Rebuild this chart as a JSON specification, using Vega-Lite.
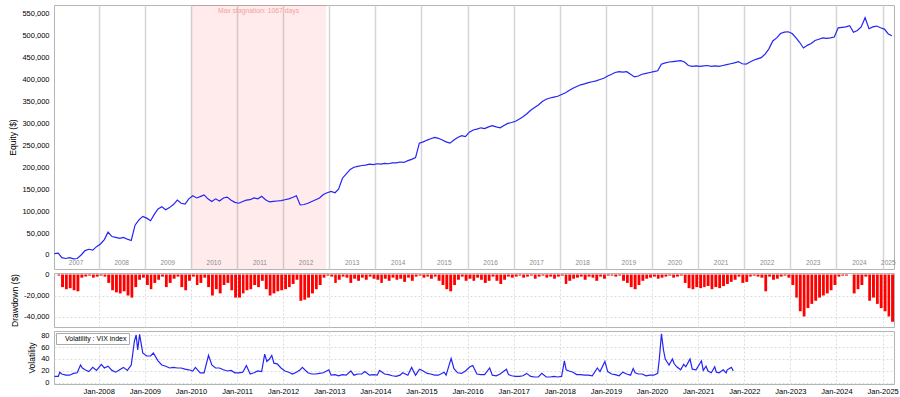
{
"$schema": "https://vega.github.io/schema/vega-lite/v6.json",
"padding": {"left": 8, "top": 4, "right": 0, "bottom": 0},
"spacing": 4,
"bounds": "flush",
"background": "white",
"resolve": {"legend": {"color": "independent"}, "scale": {"color": "independent"}},
"config": {
  "font": "Liberation Sans",
  "view": {"stroke": "#b4b4b4"},
  "axis": {"labelFontSize": 7.5, "labelColor": "#000", "titleFontSize": 8.5, "titleFontWeight": "normal", "titleColor": "#000", "gridColor": "#dcdcdc", "gridDash": [2, 2], "domain": false, "ticks": false, "labelPadding": 5, "titlePadding": 4}
},
"datasets": {
  "eq": [
{"d":"2007-01-15","e":3000,"w":0},{"d":"2007-02-15","e":4000,"w":-1000},{"d":"2007-03-15","e":-6000,"w":-12000},{"d":"2007-04-15","e":-8000,"w":-14000},{"d":"2007-05-15","e":-6000,"w":-13000},{"d":"2007-06-15","e":-9000,"w":-15000},{"d":"2007-07-15","e":-8000,"w":-16000},{"d":"2007-08-15","e":0,"w":-3000},{"d":"2007-09-15","e":10000,"w":-2000},{"d":"2007-10-15","e":13000,"w":-1000},{"d":"2007-11-15","e":11000,"w":-3000},{"d":"2007-12-15","e":19000,"w":-2000},
{"d":"2008-01-15","e":25000,"w":-1000},{"d":"2008-02-15","e":35000,"w":-2000},{"d":"2008-03-15","e":52000,"w":-8000},{"d":"2008-04-15","e":42000,"w":-15000},{"d":"2008-05-15","e":40000,"w":-17000},{"d":"2008-06-15","e":38000,"w":-18000},{"d":"2008-07-15","e":40000,"w":-16000},{"d":"2008-08-15","e":36000,"w":-20000},{"d":"2008-09-15","e":33000,"w":-22000},{"d":"2008-10-15","e":68000,"w":-12000},{"d":"2008-11-15","e":80000,"w":-5000},{"d":"2008-12-15","e":88000,"w":-3000},
{"d":"2009-01-15","e":84000,"w":-10000},{"d":"2009-02-15","e":78000,"w":-14000},{"d":"2009-03-15","e":92000,"w":-8000},{"d":"2009-04-15","e":105000,"w":-5000},{"d":"2009-05-15","e":110000,"w":-2000},{"d":"2009-06-15","e":103000,"w":-12000},{"d":"2009-07-15","e":108000,"w":-8000},{"d":"2009-08-15","e":115000,"w":-4000},{"d":"2009-09-15","e":125000,"w":-2000},{"d":"2009-10-15","e":118000,"w":-12000},{"d":"2009-11-15","e":116000,"w":-15000},{"d":"2009-12-15","e":128000,"w":-6000},
{"d":"2010-01-15","e":135000,"w":-2000},{"d":"2010-02-15","e":130000,"w":-10000},{"d":"2010-03-15","e":133000,"w":-8000},{"d":"2010-04-15","e":137000,"w":-3000},{"d":"2010-05-15","e":128000,"w":-12000},{"d":"2010-06-15","e":122000,"w":-20000},{"d":"2010-07-15","e":128000,"w":-14000},{"d":"2010-08-15","e":123000,"w":-18000},{"d":"2010-09-15","e":130000,"w":-10000},{"d":"2010-10-15","e":132000,"w":-8000},{"d":"2010-11-15","e":125000,"w":-15000},{"d":"2010-12-15","e":120000,"w":-22000},
{"d":"2011-01-15","e":118000,"w":-22000},{"d":"2011-02-15","e":122000,"w":-18000},{"d":"2011-03-15","e":125000,"w":-15000},{"d":"2011-04-15","e":126000,"w":-14000},{"d":"2011-05-15","e":130000,"w":-10000},{"d":"2011-06-15","e":128000,"w":-12000},{"d":"2011-07-15","e":134000,"w":-6000},{"d":"2011-08-15","e":126000,"w":-14000},{"d":"2011-09-15","e":121000,"w":-20000},{"d":"2011-10-15","e":122000,"w":-18000},{"d":"2011-11-15","e":123000,"w":-16000},{"d":"2011-12-15","e":124000,"w":-15000},
{"d":"2012-01-15","e":126000,"w":-14000},{"d":"2012-02-15","e":128000,"w":-12000},{"d":"2012-03-15","e":131000,"w":-9000},{"d":"2012-04-15","e":135000,"w":-5000},{"d":"2012-05-15","e":114000,"w":-25000},{"d":"2012-06-15","e":115000,"w":-24000},{"d":"2012-07-15","e":118000,"w":-22000},{"d":"2012-08-15","e":122000,"w":-18000},{"d":"2012-09-15","e":126000,"w":-14000},{"d":"2012-10-15","e":130000,"w":-10000},{"d":"2012-11-15","e":138000,"w":-3000},{"d":"2012-12-15","e":142000,"w":-1000},
{"d":"2013-01-15","e":145000,"w":-2000},{"d":"2013-02-15","e":142000,"w":-8000},{"d":"2013-03-15","e":150000,"w":-5000},{"d":"2013-04-15","e":175000,"w":-2000},{"d":"2013-05-15","e":185000,"w":-3000},{"d":"2013-06-15","e":195000,"w":-8000},{"d":"2013-07-15","e":200000,"w":-4000},{"d":"2013-08-15","e":202000,"w":-6000},{"d":"2013-09-15","e":204000,"w":-3000},{"d":"2013-10-15","e":205000,"w":-5000},{"d":"2013-11-15","e":207000,"w":-2000},{"d":"2013-12-15","e":206000,"w":-4000},
{"d":"2014-01-15","e":208000,"w":-5000},{"d":"2014-02-15","e":207000,"w":-8000},{"d":"2014-03-15","e":209000,"w":-4000},{"d":"2014-04-15","e":208000,"w":-6000},{"d":"2014-05-15","e":210000,"w":-3000},{"d":"2014-06-15","e":210000,"w":-5000},{"d":"2014-07-15","e":212000,"w":-4000},{"d":"2014-08-15","e":211000,"w":-7000},{"d":"2014-09-15","e":215000,"w":-3000},{"d":"2014-10-15","e":218000,"w":-6000},{"d":"2014-11-15","e":222000,"w":-2000},{"d":"2014-12-15","e":255000,"w":-1000},
{"d":"2015-01-15","e":258000,"w":-3000},{"d":"2015-02-15","e":262000,"w":-2000},{"d":"2015-03-15","e":265000,"w":-4000},{"d":"2015-04-15","e":268000,"w":-2000},{"d":"2015-05-15","e":266000,"w":-6000},{"d":"2015-06-15","e":262000,"w":-10000},{"d":"2015-07-15","e":258000,"w":-14000},{"d":"2015-08-15","e":255000,"w":-16000},{"d":"2015-09-15","e":262000,"w":-10000},{"d":"2015-10-15","e":268000,"w":-5000},{"d":"2015-11-15","e":272000,"w":-2000},{"d":"2015-12-15","e":270000,"w":-6000},
{"d":"2016-01-15","e":280000,"w":-4000},{"d":"2016-02-15","e":285000,"w":-6000},{"d":"2016-03-15","e":287000,"w":-3000},{"d":"2016-04-15","e":290000,"w":-5000},{"d":"2016-05-15","e":288000,"w":-8000},{"d":"2016-06-15","e":292000,"w":-6000},{"d":"2016-07-15","e":295000,"w":-2000},{"d":"2016-08-15","e":292000,"w":-6000},{"d":"2016-09-15","e":290000,"w":-9000},{"d":"2016-10-15","e":295000,"w":-5000},{"d":"2016-11-15","e":300000,"w":-2000},{"d":"2016-12-15","e":302000,"w":-3000},
{"d":"2017-01-15","e":305000,"w":-2000},{"d":"2017-02-15","e":310000,"w":-1000},{"d":"2017-03-15","e":315000,"w":-3000},{"d":"2017-04-15","e":322000,"w":-2000},{"d":"2017-05-15","e":330000,"w":-1000},{"d":"2017-06-15","e":336000,"w":-4000},{"d":"2017-07-15","e":342000,"w":-2000},{"d":"2017-08-15","e":350000,"w":-1000},{"d":"2017-09-15","e":355000,"w":-3000},{"d":"2017-10-15","e":358000,"w":-2000},{"d":"2017-11-15","e":360000,"w":-4000},{"d":"2017-12-15","e":362000,"w":-2000},
{"d":"2018-01-15","e":366000,"w":-1000},{"d":"2018-02-15","e":370000,"w":-9000},{"d":"2018-03-15","e":375000,"w":-6000},{"d":"2018-04-15","e":380000,"w":-4000},{"d":"2018-05-15","e":384000,"w":-3000},{"d":"2018-06-15","e":388000,"w":-2000},{"d":"2018-07-15","e":390000,"w":-5000},{"d":"2018-08-15","e":393000,"w":-2000},{"d":"2018-09-15","e":395000,"w":-3000},{"d":"2018-10-15","e":397000,"w":-6000},{"d":"2018-11-15","e":400000,"w":-2000},{"d":"2018-12-15","e":403000,"w":-4000},
{"d":"2019-01-15","e":408000,"w":-1000},{"d":"2019-02-15","e":412000,"w":-1000},{"d":"2019-03-15","e":416000,"w":-2000},{"d":"2019-04-15","e":418000,"w":-1000},{"d":"2019-05-15","e":417000,"w":-6000},{"d":"2019-06-15","e":418000,"w":-8000},{"d":"2019-07-15","e":412000,"w":-12000},{"d":"2019-08-15","e":406000,"w":-14000},{"d":"2019-09-15","e":408000,"w":-10000},{"d":"2019-10-15","e":412000,"w":-6000},{"d":"2019-11-15","e":414000,"w":-4000},{"d":"2019-12-15","e":416000,"w":-3000},
{"d":"2020-01-15","e":418000,"w":-2000},{"d":"2020-02-15","e":420000,"w":-4000},{"d":"2020-03-15","e":435000,"w":-3000},{"d":"2020-04-15","e":438000,"w":-2000},{"d":"2020-05-15","e":440000,"w":-1000},{"d":"2020-06-15","e":441000,"w":-3000},{"d":"2020-07-15","e":442000,"w":-2000},{"d":"2020-08-15","e":443000,"w":-1000},{"d":"2020-09-15","e":440000,"w":-8000},{"d":"2020-10-15","e":432000,"w":-13000},{"d":"2020-11-15","e":430000,"w":-14000},{"d":"2020-12-15","e":431000,"w":-12000},
{"d":"2021-01-15","e":430000,"w":-13000},{"d":"2021-02-15","e":431000,"w":-12000},{"d":"2021-03-15","e":432000,"w":-11000},{"d":"2021-04-15","e":430000,"w":-14000},{"d":"2021-05-15","e":431000,"w":-12000},{"d":"2021-06-15","e":430000,"w":-13000},{"d":"2021-07-15","e":432000,"w":-11000},{"d":"2021-08-15","e":434000,"w":-9000},{"d":"2021-09-15","e":436000,"w":-7000},{"d":"2021-10-15","e":438000,"w":-5000},{"d":"2021-11-15","e":441000,"w":-2000},{"d":"2021-12-15","e":436000,"w":-8000},
{"d":"2022-01-15","e":435000,"w":-7000},{"d":"2022-02-15","e":440000,"w":-2000},{"d":"2022-03-15","e":444000,"w":-1000},{"d":"2022-04-15","e":447000,"w":-2000},{"d":"2022-05-15","e":450000,"w":-3000},{"d":"2022-06-15","e":458000,"w":-16000},{"d":"2022-07-15","e":470000,"w":-2000},{"d":"2022-08-15","e":488000,"w":-5000},{"d":"2022-09-15","e":495000,"w":-4000},{"d":"2022-10-15","e":505000,"w":-2000},{"d":"2022-11-15","e":508000,"w":-1000},{"d":"2022-12-15","e":509000,"w":-3000},
{"d":"2023-01-15","e":505000,"w":-10000},{"d":"2023-02-15","e":495000,"w":-22000},{"d":"2023-03-15","e":485000,"w":-35000},{"d":"2023-04-15","e":472000,"w":-40000},{"d":"2023-05-15","e":478000,"w":-32000},{"d":"2023-06-15","e":482000,"w":-28000},{"d":"2023-07-15","e":489000,"w":-25000},{"d":"2023-08-15","e":492000,"w":-22000},{"d":"2023-09-15","e":495000,"w":-20000},{"d":"2023-10-15","e":494000,"w":-18000},{"d":"2023-11-15","e":495000,"w":-15000},{"d":"2023-12-15","e":497000,"w":-10000},
{"d":"2024-01-15","e":518000,"w":-2000},{"d":"2024-02-15","e":519000,"w":-1000},{"d":"2024-03-15","e":520000,"w":-1000},{"d":"2024-04-15","e":523000,"w":0},{"d":"2024-05-15","e":508000,"w":-18000},{"d":"2024-06-15","e":512000,"w":-14000},{"d":"2024-07-15","e":520000,"w":-10000},{"d":"2024-08-15","e":541000,"w":-2000},{"d":"2024-09-15","e":516000,"w":-25000},{"d":"2024-10-15","e":520000,"w":-22000},{"d":"2024-11-15","e":522000,"w":-28000},{"d":"2024-12-15","e":518000,"w":-32000},
{"d":"2025-01-15","e":515000,"w":-35000},{"d":"2025-02-15","e":504000,"w":-40000},{"d":"2025-03-15","e":500000,"w":-45000}
  ],
  "vix": [
{"d":"2007-01-15","v":11},{"d":"2007-02-15","v":11},{"d":"2007-02-27","v":18},{"d":"2007-03-15","v":15},{"d":"2007-04-15","v":13},{"d":"2007-05-15","v":13},{"d":"2007-06-15","v":16},{"d":"2007-07-15","v":17},{"d":"2007-08-10","v":30},{"d":"2007-08-25","v":25},{"d":"2007-09-15","v":22},{"d":"2007-10-15","v":19},{"d":"2007-11-15","v":26},{"d":"2007-12-15","v":21},
{"d":"2008-01-22","v":31},{"d":"2008-02-15","v":25},{"d":"2008-03-15","v":28},{"d":"2008-04-15","v":21},{"d":"2008-05-15","v":18},{"d":"2008-06-15","v":22},{"d":"2008-07-15","v":26},{"d":"2008-08-15","v":21},{"d":"2008-09-15","v":30},{"d":"2008-10-10","v":70},{"d":"2008-10-24","v":80},{"d":"2008-11-05","v":55},{"d":"2008-11-20","v":81},{"d":"2008-12-15","v":50},
{"d":"2009-01-15","v":45},{"d":"2009-02-15","v":45},{"d":"2009-03-09","v":50},{"d":"2009-04-15","v":37},{"d":"2009-05-15","v":30},{"d":"2009-06-15","v":28},{"d":"2009-07-15","v":25},{"d":"2009-08-15","v":26},{"d":"2009-09-15","v":25},{"d":"2009-10-15","v":25},{"d":"2009-11-15","v":23},{"d":"2009-12-15","v":22},
{"d":"2010-01-15","v":20},{"d":"2010-02-05","v":26},{"d":"2010-03-15","v":17},{"d":"2010-04-15","v":17},{"d":"2010-05-20","v":46},{"d":"2010-06-15","v":30},{"d":"2010-07-15","v":25},{"d":"2010-08-15","v":25},{"d":"2010-09-15","v":22},{"d":"2010-10-15","v":20},{"d":"2010-11-15","v":21},{"d":"2010-12-15","v":17},
{"d":"2011-01-15","v":17},{"d":"2011-02-15","v":18},{"d":"2011-03-16","v":29},{"d":"2011-04-15","v":15},{"d":"2011-05-15","v":17},{"d":"2011-06-15","v":20},{"d":"2011-07-15","v":19},{"d":"2011-08-08","v":48},{"d":"2011-08-25","v":36},{"d":"2011-09-15","v":40},{"d":"2011-10-03","v":46},{"d":"2011-10-20","v":33},{"d":"2011-11-15","v":32},{"d":"2011-12-15","v":25},
{"d":"2012-01-15","v":20},{"d":"2012-02-15","v":18},{"d":"2012-03-15","v":15},{"d":"2012-04-15","v":18},{"d":"2012-05-15","v":22},{"d":"2012-06-01","v":26},{"d":"2012-07-15","v":17},{"d":"2012-08-15","v":15},{"d":"2012-09-15","v":15},{"d":"2012-10-15","v":16},{"d":"2012-11-15","v":17},{"d":"2012-12-28","v":22},
{"d":"2013-01-15","v":13},{"d":"2013-02-15","v":14},{"d":"2013-03-15","v":12},{"d":"2013-04-15","v":14},{"d":"2013-05-15","v":13},{"d":"2013-06-20","v":20},{"d":"2013-07-15","v":13},{"d":"2013-08-15","v":15},{"d":"2013-09-15","v":15},{"d":"2013-10-10","v":19},{"d":"2013-11-15","v":13},{"d":"2013-12-15","v":14},
{"d":"2014-01-15","v":13},{"d":"2014-02-03","v":21},{"d":"2014-03-15","v":15},{"d":"2014-04-15","v":14},{"d":"2014-05-15","v":12},{"d":"2014-06-15","v":11},{"d":"2014-07-15","v":13},{"d":"2014-08-05","v":17},{"d":"2014-09-15","v":13},{"d":"2014-10-15","v":26},{"d":"2014-11-15","v":13},{"d":"2014-12-16","v":23},
{"d":"2015-01-15","v":20},{"d":"2015-02-15","v":16},{"d":"2015-03-15","v":15},{"d":"2015-04-15","v":13},{"d":"2015-05-15","v":13},{"d":"2015-06-29","v":18},{"d":"2015-07-15","v":13},{"d":"2015-08-24","v":41},{"d":"2015-09-15","v":24},{"d":"2015-10-15","v":17},{"d":"2015-11-15","v":16},{"d":"2015-12-15","v":20},
{"d":"2016-01-20","v":27},{"d":"2016-02-11","v":29},{"d":"2016-03-15","v":15},{"d":"2016-04-15","v":14},{"d":"2016-05-15","v":14},{"d":"2016-06-24","v":25},{"d":"2016-07-15","v":13},{"d":"2016-08-15","v":12},{"d":"2016-09-15","v":15},{"d":"2016-11-04","v":23},{"d":"2016-11-20","v":14},{"d":"2016-12-15","v":12},
{"d":"2017-01-15","v":11},{"d":"2017-02-15","v":11},{"d":"2017-03-15","v":12},{"d":"2017-04-13","v":16},{"d":"2017-05-15","v":11},{"d":"2017-06-15","v":10},{"d":"2017-07-15","v":10},{"d":"2017-08-11","v":16},{"d":"2017-09-15","v":10},{"d":"2017-10-15","v":10},{"d":"2017-11-15","v":11},{"d":"2017-12-15","v":10},
{"d":"2018-01-15","v":11},{"d":"2018-02-06","v":37},{"d":"2018-02-20","v":22},{"d":"2018-03-15","v":20},{"d":"2018-04-15","v":18},{"d":"2018-05-15","v":14},{"d":"2018-06-15","v":14},{"d":"2018-07-15","v":13},{"d":"2018-08-15","v":13},{"d":"2018-09-15","v":12},{"d":"2018-10-25","v":25},{"d":"2018-11-15","v":19},{"d":"2018-12-24","v":36},
{"d":"2019-01-15","v":19},{"d":"2019-02-15","v":15},{"d":"2019-03-15","v":14},{"d":"2019-04-15","v":12},{"d":"2019-05-15","v":18},{"d":"2019-06-15","v":15},{"d":"2019-07-15","v":13},{"d":"2019-08-05","v":24},{"d":"2019-08-20","v":17},{"d":"2019-09-15","v":15},{"d":"2019-10-15","v":15},{"d":"2019-11-15","v":12},{"d":"2019-12-15","v":13},
{"d":"2020-01-15","v":13},{"d":"2020-02-15","v":16},{"d":"2020-02-28","v":40},{"d":"2020-03-16","v":82},{"d":"2020-04-01","v":55},{"d":"2020-04-15","v":40},{"d":"2020-05-15","v":30},{"d":"2020-06-11","v":40},{"d":"2020-06-25","v":32},{"d":"2020-07-15","v":27},{"d":"2020-08-15","v":22},{"d":"2020-09-08","v":31},{"d":"2020-09-25","v":27},{"d":"2020-10-28","v":40},{"d":"2020-11-15","v":23},{"d":"2020-12-15","v":22},
{"d":"2021-01-27","v":37},{"d":"2021-02-10","v":21},{"d":"2021-03-04","v":28},{"d":"2021-03-20","v":20},{"d":"2021-04-15","v":17},{"d":"2021-05-12","v":27},{"d":"2021-05-25","v":18},{"d":"2021-06-15","v":17},{"d":"2021-07-19","v":22},{"d":"2021-08-10","v":17},{"d":"2021-08-19","v":22},{"d":"2021-09-20","v":26},{"d":"2021-09-30","v":23},{"d":"2021-10-05","v":20}
  ]
},
"vconcat": [
  {
    "width": 840, "height": 264,
    "layer": [
      {
        "data": {"values": [{"start": "2010-01-04", "end": "2012-12-06"}]},
        "mark": {"type": "rect", "color": "#ff0000", "opacity": 0.08},
        "encoding": {
          "x": {"field": "start", "type": "temporal", "scale": {"domain": ["2007-01-12", "2025-04-01"]}, "axis": {"tickCount": "year", "labels": false, "labelPadding": 0, "title": null, "gridDash": [], "gridColor": "#d6d6d6", "gridWidth": 1.5}},
          "x2": {"field": "end"}
        }
      },
      {
        "data": {"values": [{"mid": "2011-06-20", "label": "Max stagnation: 1067 days"}]},
        "mark": {"type": "text", "color": "#f4a0a0", "fontSize": 6.8},
        "encoding": {
          "x": {"field": "mid", "type": "temporal"},
          "y": {"datum": 556000, "type": "quantitative", "scale": {"domain": [-32000, 570000], "nice": false}, "axis": {"values": [0,50000,100000,150000,200000,250000,300000,350000,400000,450000,500000,550000], "format": ",.0f", "title": "Equity ($)"}},
          "text": {"field": "label"}
        }
      },
      {
        "data": {"values": [{"m":"2007-07-06","t":"2007"},{"m":"2008-07-01","t":"2008"},{"m":"2009-07-01","t":"2009"},{"m":"2010-07-01","t":"2010"},{"m":"2011-07-01","t":"2011"},{"m":"2012-07-01","t":"2012"},{"m":"2013-07-01","t":"2013"},{"m":"2014-07-01","t":"2014"},{"m":"2015-07-01","t":"2015"},{"m":"2016-07-01","t":"2016"},{"m":"2017-07-01","t":"2017"},{"m":"2018-07-01","t":"2018"},{"m":"2019-07-01","t":"2019"},{"m":"2020-07-01","t":"2020"},{"m":"2021-07-01","t":"2021"},{"m":"2022-07-01","t":"2022"},{"m":"2023-07-01","t":"2023"},{"m":"2024-07-01","t":"2024"},{"m":"2025-02-15","t":"2025"}]},
        "mark": {"type": "text", "color": "#8c8c8c", "fontSize": 6.5},
        "encoding": {
          "x": {"field": "m", "type": "temporal"},
          "y": {"datum": -19000, "type": "quantitative", "scale": {"domain": [-32000, 570000], "nice": false}, "axis": {"values": [0,50000,100000,150000,200000,250000,300000,350000,400000,450000,500000,550000], "format": ",.0f", "title": "Equity ($)"}},
          "text": {"field": "t"}
        }
      },
      {
        "data": {"name": "eq"},
        "mark": {"type": "line", "color": "#2424f5", "strokeWidth": 1.2},
        "encoding": {
          "x": {"field": "d", "type": "temporal"},
          "y": {"field": "e", "type": "quantitative", "scale": {"domain": [-32000, 570000], "nice": false}, "axis": {"values": [0,50000,100000,150000,200000,250000,300000,350000,400000,450000,500000,550000], "format": ",.0f", "title": "Equity ($)"}}
        }
      }
    ]
  },
  {
    "width": 840, "height": 54,
    "data": {"name": "eq"},
    "mark": {"type": "bar", "color": "#ff0000", "clip": true},
    "encoding": {
      "x": {"field": "d", "type": "temporal", "timeUnit": "yearmonth", "scale": {"domain": ["2007-01-12", "2025-04-01"]}, "axis": {"tickCount": "year", "labels": false, "labelPadding": 0, "title": null}},
      "y": {"field": "w", "type": "quantitative", "scale": {"domain": [-50000, 1430], "nice": false}, "axis": {"values": [0, -20000, -40000], "format": ",.0f", "labelExpr": "replace(datum.label, '−', '-')", "title": "Drawdown ($)"}}
    }
  },
  {
    "width": 840, "height": 53,
    "data": {"name": "vix"},
    "mark": {"type": "line", "strokeWidth": 1.2},
    "encoding": {
      "x": {"field": "d", "type": "temporal", "scale": {"domain": ["2007-01-12", "2025-04-01"]}, "axis": {"tickCount": "year", "format": "%b-%Y", "title": null, "labelPadding": 3}},
      "y": {"field": "v", "type": "quantitative", "scale": {"domain": [-1.7, 86.7], "nice": false}, "axis": {"values": [0, 20, 40, 60, 80], "title": "Volatility"}},
      "color": {"datum": "Volatility : VIX index", "type": "nominal", "scale": {"range": ["#2424f5"]}, "legend": {"title": null, "orient": "top-left", "symbolSize": 0, "symbolOpacity": 0, "symbolStrokeWidth": 0, "labelOffset": 0, "labelFontSize": 7, "labelColor": "#000", "strokeColor": "#aaaaaa", "fillColor": "white", "padding": 2, "offset": 2}}
    }
  }
]
}
